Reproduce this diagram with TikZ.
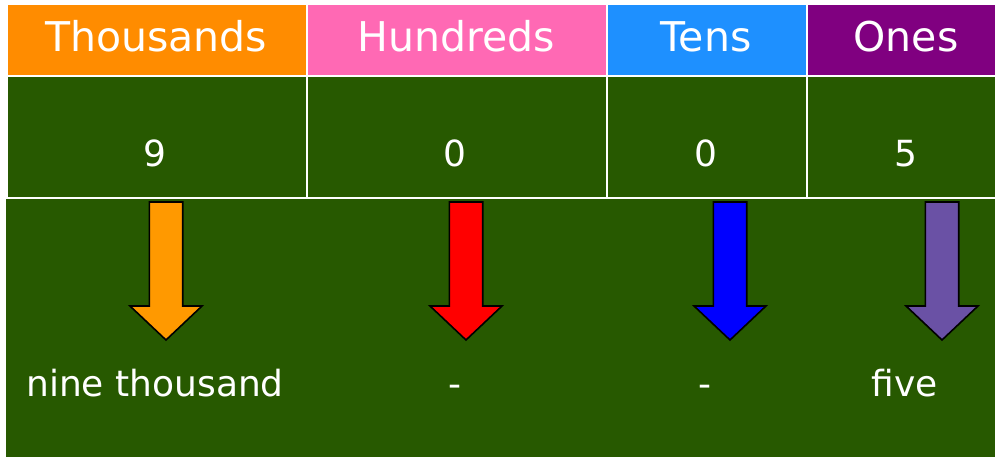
\documentclass[tikz,border=0pt]{standalone}
\usepackage{fontspec}
\setmainfont{DejaVu Sans}
\definecolor{bggreen}{RGB}{39,89,0}
\definecolor{hdorange}{RGB}{255,140,0}
\definecolor{hdpink}{RGB}{255,105,180}
\definecolor{hdblue}{RGB}{30,144,255}
\definecolor{hdpurple}{RGB}{128,0,128}
\definecolor{arorange}{RGB}{255,153,0}
\definecolor{arred}{RGB}{255,0,0}
\definecolor{arblue}{RGB}{0,0,255}
\definecolor{arpurple}{RGB}{106,81,165}
\tikzset{
  cellbox/.style={draw=none, inner sep=0pt, outer sep=0pt},
  hdtext/.style={text=white, anchor=base, inner sep=0pt, font=\fontsize{41}{49}\selectfont},
  bodytext/.style={text=white, anchor=base, inner sep=0pt, font=\fontsize{36}{43}\selectfont},
  blockarrow/.style={draw=black, line width=1.6pt, line join=miter},
  pics/downarrow/.style={code={
    \draw[blockarrow, fill=#1] (-16.7,202) -- (16.7,202) -- (16.7,306) -- (36,306)
      -- (0,340) -- (-36,306) -- (-16.7,306) -- cycle;
  }}
}
\begin{document}
\begin{tikzpicture}[x=1pt,y=-1pt]
\useasboundingbox (0,0) rectangle (995,457);
\fill[white] (0,0) rectangle (995,457);
% header cells
\fill[hdorange] (8,5) rectangle (306,75);
\fill[hdpink] (308,5) rectangle (606,75);
\fill[hdblue] (608,5) rectangle (806,75);
\fill[hdpurple] (808,5) rectangle (995,75);
% value cells
\fill[bggreen] (8,77) rectangle (306,197);
\fill[bggreen] (308,77) rectangle (606,197);
\fill[bggreen] (608,77) rectangle (806,197);
\fill[bggreen] (808,77) rectangle (995,197);
% lower area
\fill[bggreen] (6,199) rectangle (995,457);
% header text
\node[hdtext] (hth) at (156,52) {Thousands};
\node[hdtext] (hhu) at (456,52) {Hundreds};
\node[hdtext] (hte) at (706,52) {Tens};
\node[hdtext] (hon) at (906,52) {Ones};
% digits
\node[bodytext] (dth) at (155,167) {9};
\node[bodytext] (dhu) at (455,167) {0};
\node[bodytext] (dte) at (706,167) {0};
\node[bodytext] (don) at (906,167) {5};
% arrows
\pic at (166,0) {downarrow=arorange};
\pic at (466,0) {downarrow=arred};
\pic at (730,0) {downarrow=arblue};
\pic at (942,0) {downarrow=arpurple};
% words
\node[bodytext] (wth) at (155,396) {nine thousand};
\node[bodytext] (whu) at (455,396) {-};
\node[bodytext] (wte) at (705,396) {-};
\node[bodytext] (won) at (905,396) {five};
\end{tikzpicture}
\end{document}
